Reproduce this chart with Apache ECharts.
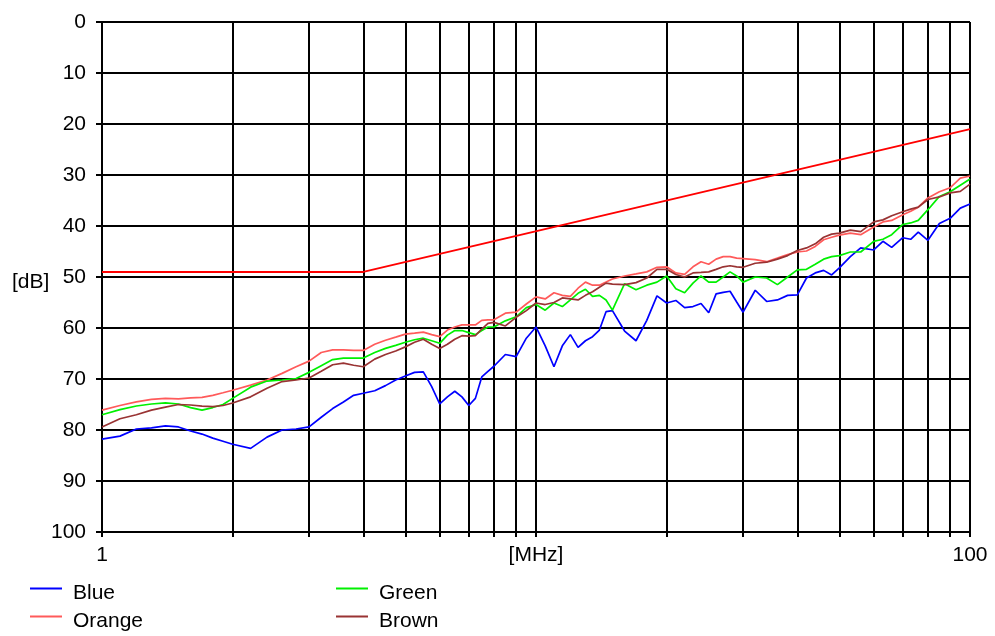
<!DOCTYPE html>
<html><head><meta charset="utf-8">
<script src="https://cdn.jsdelivr.net/npm/echarts@6/dist/echarts.min.js"></script>
<style>html,body{margin:0;padding:0;background:#fff}#c{width:995px;height:636px}</style>
</head><body><div id="c"></div>
<script>
// Frequencies in MHz (log axis)
const freqs = [1,1.1,1.2,1.3,1.4,1.5,1.6,1.7,1.8,1.9,
  2,2.2,2.4,2.6,2.8,3,3.2,3.4,3.6,3.8,
  4,4.25,4.5,4.75,5,5.25,5.5,5.75,6,6.25,6.5,6.75,7,7.25,7.5,7.75,8,8.5,9,9.5,
  10,10.5,11,11.5,12,12.5,13,13.5,14,14.5,15,16,17,18,19,
  20,21,22,23,24,25,26,27,28,29,30,32,34,36,38,
  40,42,44,46,48,50,53,56,60,63,66,70,73,76,80,85,90,95,100];

const blue = [81.8,81.2,79.8,79.6,79.2,79.4,80.2,80.8,81.6,82.2,
  82.8,83.6,81.4,80.0,79.8,79.4,77.5,75.8,74.5,73.2,
  72.8,72.3,71.3,70.2,69.4,68.7,68.6,71.5,74.9,73.5,72.4,73.5,75.2,73.8,69.6,68.5,67.5,65.2,65.6,62.0,
  59.8,63.5,67.6,63.5,61.3,63.8,62.5,61.7,60.4,56.8,56.6,60.6,62.5,58.5,53.7,
  55.1,54.6,56.0,55.8,55.2,57.0,53.3,53.0,52.8,54.9,56.9,52.6,54.8,54.5,53.6,
  53.5,50.2,49.2,48.7,49.6,48.2,46.0,44.3,44.7,43.0,44.2,42.3,42.6,41.2,42.8,39.5,38.5,36.5,35.7];

const orange = [76.1,75.2,74.5,74.0,73.8,73.9,73.7,73.6,73.2,72.7,
  72.2,71.2,70.2,68.9,67.6,66.5,64.8,64.3,64.3,64.4,
  64.4,63.2,62.4,61.8,61.2,61.0,60.8,61.3,61.7,60.4,59.8,59.4,59.4,59.4,58.5,58.4,58.4,57.1,56.9,55.3,
  53.9,54.3,53.1,53.6,53.8,52.2,51.0,51.6,51.6,51.0,50.4,49.8,49.4,49.0,48.1,
  48.0,49.2,49.5,48.0,47.0,47.5,46.5,46.0,46.0,46.3,46.4,46.6,47.0,46.3,45.6,
  45.1,44.9,44.0,42.7,42.2,41.8,41.4,41.7,40.2,39.2,38.9,37.8,37.1,36.3,34.5,33.3,32.5,30.6,30.2];

const green = [77.0,76.0,75.3,74.9,74.7,74.9,75.6,76.1,75.6,75.0,
  73.8,71.6,70.4,70.2,69.9,68.7,67.4,66.2,65.9,65.9,
  65.9,64.8,64.0,63.4,62.8,62.3,62.0,62.5,63.0,61.4,60.5,60.5,60.9,61.3,60.5,59.8,59.8,58.6,57.8,56.0,
  55.4,56.5,55.1,55.8,54.5,53.2,52.4,53.8,53.6,54.5,56.5,51.3,52.5,51.6,51.0,
  49.8,52.3,53.1,51.2,49.8,51.0,51.0,50.0,49.0,49.8,51.0,50.0,50.2,51.5,50.0,
  48.6,48.5,47.5,46.5,46.0,45.8,45.1,45.1,43.0,42.6,41.7,39.7,39.4,38.9,36.8,34.2,33.3,32.0,30.8];

const brown = [79.4,77.8,77.0,76.1,75.5,75.0,75.1,75.3,75.4,75.2,
  74.7,73.5,71.8,70.5,70.2,69.8,68.5,67.2,66.9,67.3,
  67.6,66.1,65.2,64.5,63.7,62.8,62.2,63.2,64.0,63.2,62.2,61.5,61.6,61.5,60.2,59.1,58.9,59.6,57.9,56.6,
  55.1,55.4,55.0,54.1,54.3,54.5,53.6,52.9,52.0,51.2,51.4,51.5,51.1,50.2,48.5,
  48.5,49.5,50.0,49.2,49.1,49.0,48.5,48.0,47.8,48.0,48.1,47.3,47.1,46.5,45.8,
  44.8,44.3,43.5,42.2,41.6,41.4,40.8,41.1,39.2,38.8,38.0,37.2,36.7,36.3,34.8,34.3,33.5,33.2,31.8];

// Limit line
const limitFreqs = [1, 4, 100];
const limitVals = [49, 49, 21];

const seriesNames = ['Blue', 'Orange', 'Green', 'Brown'];
const seriesColors = ['#0000ff', '#ff5a5a', '#00f000', '#993333'];
const seriesValues = [blue, orange, green, brown];

const FONT = "'Liberation Sans',Arial,sans-serif";
const FS = 21;

const chart = echarts.init(document.getElementById('c'), null, {renderer: 'canvas'});

const series = seriesNames.map((n, k) => ({
  name: n, type: 'line', symbol: 'none', animation: false,
  lineStyle: {color: seriesColors[k], width: 1.7},
  itemStyle: {color: seriesColors[k]},
  data: freqs.map((f, i) => [f, seriesValues[k][i]])
}));
series.push({
  name: 'Limit', type: 'line', symbol: 'none', animation: false,
  lineStyle: {color: '#ff0000', width: 2},
  data: limitFreqs.map((f, i) => [f, limitVals[i]])
});

// icon: 2px line at the top of a 32x12 box (so the line sits above the text centre)
const ICON = 'path://M0,0H32V2H0Z M31.9,11.9H32V12H31.9Z';
const legendPos = [[30, 583], [30, 611], [336, 583], [336, 611]];
const legends = seriesNames.map((n, k) => ({
  data: [n], left: legendPos[k][0], top: legendPos[k][1], padding: 0,
  icon: ICON, itemWidth: 32, itemHeight: 12,
  textStyle: {fontFamily: FONT, fontSize: FS, color: '#000', padding: [0, 0, 0, 6]},
  selectedMode: false
}));

const lineCol = '#000';
const GW = 2;
chart.setOption({
  animation: false,
  backgroundColor: '#fff',
  textStyle: {fontFamily: FONT},
  grid: {left: 102, right: 25, top: 22, bottom: 104, containLabel: false},
  legend: legends,
  graphic: [{type: 'text', left: 12, top: 272, style: {text: '[dB]', font: FS + 'px ' + FONT, fill: '#000'}}],
  xAxis: {
    type: 'log', logBase: 10, min: 1, max: 100,
    axisLine: {show: true, onZero: false, lineStyle: {color: lineCol, width: GW}},
    axisTick: {show: true, length: 5, lineStyle: {color: lineCol, width: GW}},
    minorTick: {show: true, splitNumber: 9, length: 5, lineStyle: {color: lineCol, width: GW}},
    splitLine: {show: true, lineStyle: {color: lineCol, width: GW}},
    minorSplitLine: {show: true, lineStyle: {color: lineCol, width: GW}},
    axisLabel: {margin: 13, fontSize: FS, color: '#000', fontFamily: FONT,
      formatter: v => { const r = Math.round(v); return r === 10 ? '[MHz]' : String(r); }}
  },
  yAxis: {
    type: 'value', inverse: true, min: 0, max: 100, interval: 10,
    axisLine: {show: true, onZero: false, lineStyle: {color: lineCol, width: GW}},
    axisTick: {show: true, length: 6, lineStyle: {color: lineCol, width: GW}},
    splitLine: {show: true, lineStyle: {color: lineCol, width: GW}},
    axisLabel: {margin: 16, fontSize: FS, color: '#000', fontFamily: FONT, padding: [0, 0, 10, 0]}
  },
  series: series
});
</script>
</body></html>
